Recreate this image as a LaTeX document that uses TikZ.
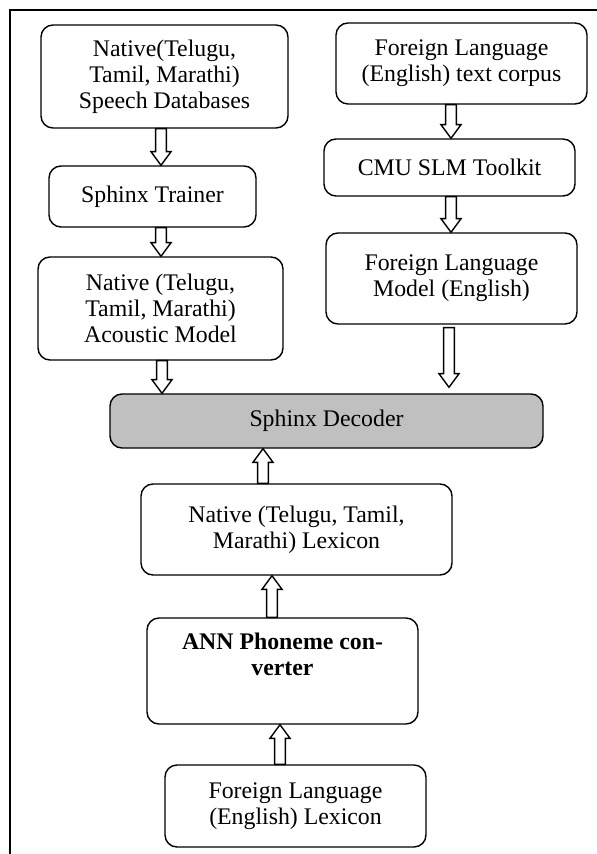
\documentclass[tikz,border=0pt]{standalone}
\usepackage{fontspec}
\setmainfont{Liberation Serif}
\usetikzlibrary{calc}
\begin{document}
\begin{tikzpicture}[x=0.5pt,y=-0.5pt,
  box/.style={draw, line width=0.7pt, rounded corners=6pt, fill=white, align=center,
    inner sep=0pt, font=\fontsize{11.9}{13}\selectfont},
  decbox/.style={box, fill=decgray},
  frame/.style={line width=0.8pt},
  blkdown/.style={draw, fill=white, line width=0.7pt, line join=miter,
    to path={let \p1=(\tikztostart), \p2=(\tikztotarget) in
      ({\x1-2.7pt},\y1) -- ({\x1-2.7pt},{\y2+6.8pt}) -- ({\x1-5pt},{\y2+6.8pt})
      -- (\x1,\y2) -- ({\x1+5pt},{\y2+6.8pt}) -- ({\x1+2.7pt},{\y2+6.8pt})
      -- ({\x1+2.7pt},\y1) -- cycle}},
  blkup/.style={draw, fill=white, line width=0.7pt, line join=miter,
    to path={let \p1=(\tikztostart), \p2=(\tikztotarget) in
      ({\x1-2.7pt},\y1) -- ({\x1-2.7pt},{\y2-6.8pt}) -- ({\x1-5pt},{\y2-6.8pt})
      -- (\x1,\y2) -- ({\x1+5pt},{\y2-6.8pt}) -- ({\x1+2.7pt},{\y2-6.8pt})
      -- ({\x1+2.7pt},\y1) -- cycle}}
]
\definecolor{decgray}{HTML}{C0C0C0}
\useasboundingbox (0,0) rectangle (597,854);
\draw[frame] (10,854) -- (10,10) -- (597,10);

\node[box, minimum width=123.5pt, minimum height=51.5pt] (db) at (164.5,76.5)
  {Native(Telugu,\\Tamil, Marathi)\\Speech Databases};
\node[box, minimum width=103.5pt, minimum height=30.5pt] (trainer) at (152.5,196.5)
  {Sphinx Trainer};
\node[box, minimum width=122.5pt, minimum height=51.5pt] (ac) at (160.5,308.5)
  {Native (Telugu,\\Tamil, Marathi)\\Acoustic Model};
\node[box, minimum width=125.5pt, minimum height=40.5pt] (corpus) at (461.5,63.5)
  {Foreign Language\\(English) text corpus};
\node[box, minimum width=125.5pt, minimum height=28.5pt] (cmu) at (449.5,167.5)
  {CMU SLM Toolkit};
\node[box, minimum width=125.5pt, minimum height=45.5pt] (flm) at (451.5,278.5)
  {Foreign Language\\Model (English)};
\node[decbox, minimum width=216.5pt, minimum height=27pt] (dec) at (326.5,421)
  {Sphinx Decoder};
\node[box, minimum width=155.5pt, minimum height=45.5pt] (nlex) at (296.5,529.5)
  {Native (Telugu, Tamil,\\Marathi) Lexicon};
\node[box, minimum width=135.5pt, minimum height=53pt] (ann) at (282.5,671)
  {\bfseries ANN Phoneme con-\\\bfseries verter\\\strut};
\node[box, minimum width=130.5pt, minimum height=41pt] (flex) at (295.5,806)
  {Foreign Language\\(English) Lexicon};

\draw[blkdown] (db.south -| 161,0) to (trainer.north -| 161,0);
\draw[blkdown] (trainer.south -| 161,0) to (ac.north -| 161,0);
\draw[blkdown] (ac.south -| 162,0) to (dec.north -| 162,0);
\draw[blkdown] (corpus.south -| 451,0) to (cmu.north -| 451,0);
\draw[blkdown] (cmu.south -| 451,0) to (flm.north -| 451,0);
\draw[blkdown] ($(flm.south -| 449,0)+(0,3)$) to ($(dec.north -| 449,0)+(0,-6)$);
\draw[blkup] (nlex.north -| 263,0) to (dec.south -| 263,0);
\draw[blkup] (ann.north -| 272,0) to (nlex.south -| 272,0);
\draw[blkup] (flex.north -| 280,0) to (ann.south -| 280,0);
\end{tikzpicture}
\end{document}
